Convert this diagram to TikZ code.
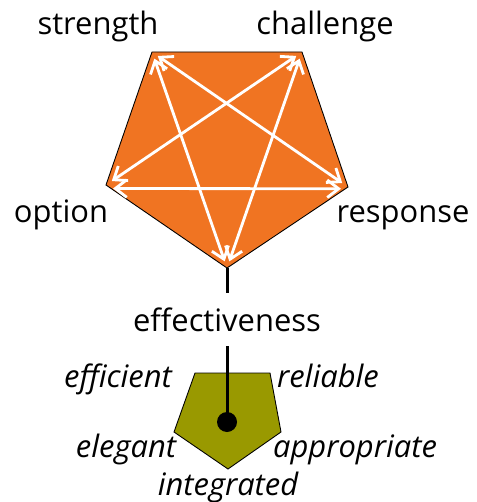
\documentclass[tikz,border=0pt]{standalone}
\usepackage{fontspec}
\setmainfont{Open Sans}
\usetikzlibrary{arrows.meta}
\begin{document}
\begin{tikzpicture}[x=0.02cm,y=-0.02cm,
	nhan/.style={font=\fontsize{17.6}{20}\selectfont,inner sep=0,anchor=base},
	nhannghieng/.style={nhan,font=\fontsize{17.6}{20}\selectfont\itshape},
	muiten/.style={white,line width=1.6pt,{Straight Barb[length=6.5pt,width=10pt]}-{Straight Barb[length=6.5pt,width=10pt]},shorten <=4pt,shorten >=4pt},
	cot/.style={black,line width=1.7pt}]
	\definecolor{cam}{RGB}{240,116,34}
	\definecolor{oliu}{RGB}{153,153,0}
	\useasboundingbox (0,0) rectangle (476,502);
	
	% ngu giac lon
	\coordinate (tl) at (152,52);
	\coordinate (tr) at (302,52);
	\coordinate (ph) at (348,187);
	\coordinate (da) at (227,268);
	\coordinate (tr2) at (106,185);
	\filldraw[black,fill=cam,line width=0.5] (tl) -- (tr) -- (ph) -- (da) -- (tr2) -- cycle;
	%Ngoi sao
	\draw[muiten] (tl) -- (da);
	\draw[muiten] (tl) -- (ph);
	\draw[muiten] (tr) -- (tr2);
	\draw[muiten] (tr) -- (da);
	\draw[muiten] ([yshift=-2]tr2) -- ([yshift=-1]ph);
	
	\node[nhan] (strength) at (98,35) {strength};
	\node[nhan] (challenge) at (325,35) {challenge};
	\node[nhan] (option) at (61,223) {option};
	\node[nhan] (response) at (403,223) {response};
	\node[nhan,anchor=center,minimum height=53*0.02cm] (eff) at (227,319.5) {effectiveness};
	
	% ngu giac nho
	\filldraw[black,fill=oliu,line width=0.5] (195,373) -- (270,373) -- (281,432) -- (228,469) -- (174,432) -- cycle;
	\fill[black] (227,422) circle (10) coordinate (cham);
	\draw[cot] (da) -- (eff.north);
	\draw[cot] (eff.south) -- (cham);
	
	\node[nhannghieng] (efficient) at (118,387) {efficient};
	\node[nhannghieng] (reliable) at (328,387) {reliable};
	\node[nhannghieng] (elegant) at (126,457) {elegant};
	\node[nhannghieng] (appropriate) at (355,457) {appropriate};
	\node[nhannghieng] (integrated) at (228,495) {integrated};
\end{tikzpicture}
\end{document}
